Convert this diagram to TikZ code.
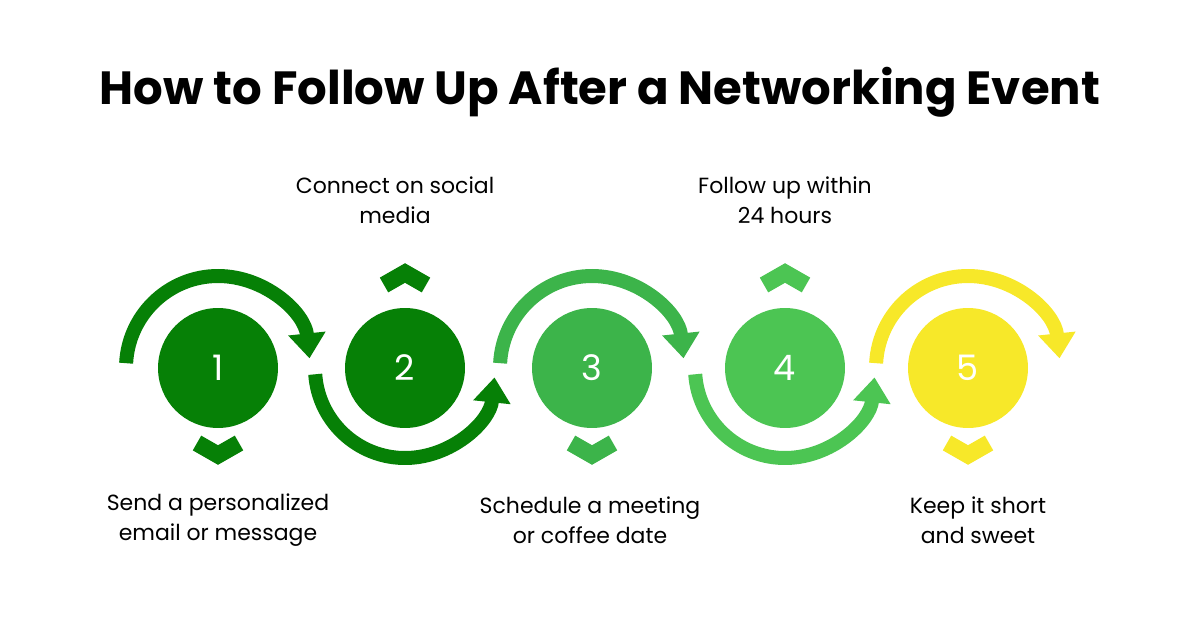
\documentclass[tikz,border=0pt]{standalone}
\usepackage{fontspec}
\setmainfont{Poppins}
\usetikzlibrary{arrows.meta}
\definecolor{gDark}{HTML}{068006}
\definecolor{gMid}{HTML}{3CB44A}
\definecolor{gLight}{HTML}{4CC553}
\definecolor{yStep}{HTML}{F7E829}
\tikzset{
  stepcirc/.style={circle, minimum size=2.4cm, inner sep=0pt, text=white, font=\fontsize{20}{20}\selectfont},
  flow/.style={line width=0.28cm, -{Triangle[length=0.5cm, width=0.72cm]}},
  lbl/.style={align=center, font=\fontsize{12.5}{17}\selectfont},
  chev/.style={line width=0.34cm, line join=miter, line cap=butt}
}
\begin{document}
\begin{tikzpicture}[x=0.02cm, y=0.02cm]
        \useasboundingbox (0,0) rectangle (1200,630);
        % Title
        \node (title) at (600,538) {\fontsize{26.5}{30}\selectfont\bfseries How to Follow Up After a Networking Event};

        % Circles
        \node (c1) [stepcirc, fill=gDark] at (218,262) {1};
        \node (c2) [stepcirc, fill=gDark] at (405,262) {2};
        \node (c3) [stepcirc, fill=gMid] at (592,262) {3};
        \node (c4) [stepcirc, fill=gLight] at (785,262) {4};
        \node (c5) [stepcirc, fill=yStep] at (968,262) {5};

        % Arrows around the circles
        \draw[flow, gDark] ([shift={(177:92)}]c1.center) arc (177:6:92);
        \draw[flow, gDark] ([shift={(184:90)}]c2.center) arc (184:354:90);
        \draw[flow, gMid] ([shift={(177:92)}]c3.center) arc (177:6:92);
        \draw[flow, gLight] ([shift={(184:90)}]c4.center) arc (184:354:90);
        \draw[flow, yStep] ([shift={(177:92)}]c5.center) arc (177:6:92);

        % Chevrons
        \foreach \c/\col in {c1/gDark, c3/gMid, c5/yStep}
          \draw[chev, \col] ([shift={(-21,187-262)}]\c.center) -- ([shift={(0,175-262)}]\c.center) -- ([shift={(21,187-262)}]\c.center);
        \foreach \c/\col in {c2/gDark, c4/gLight}
          \draw[chev, \col] ([shift={(-21,345-262)}]\c.center) -- ([shift={(0,357-262)}]\c.center) -- ([shift={(21,345-262)}]\c.center);

        % Labels
        \node (t1) [lbl] at (218,110) {Send a personalized\\email or message};
        \node (t2) [lbl] at (395,430) {Connect on social\\media};
        \node (t3) [lbl] at (590,110) {Schedule a meeting\\or coffee date};
        \node (t4) [lbl] at (785,430) {Follow up within\\24 hours};
        \node (t5) [lbl] at (978,110) {Keep it short\\and sweet};
    \end{tikzpicture}
\end{document}
